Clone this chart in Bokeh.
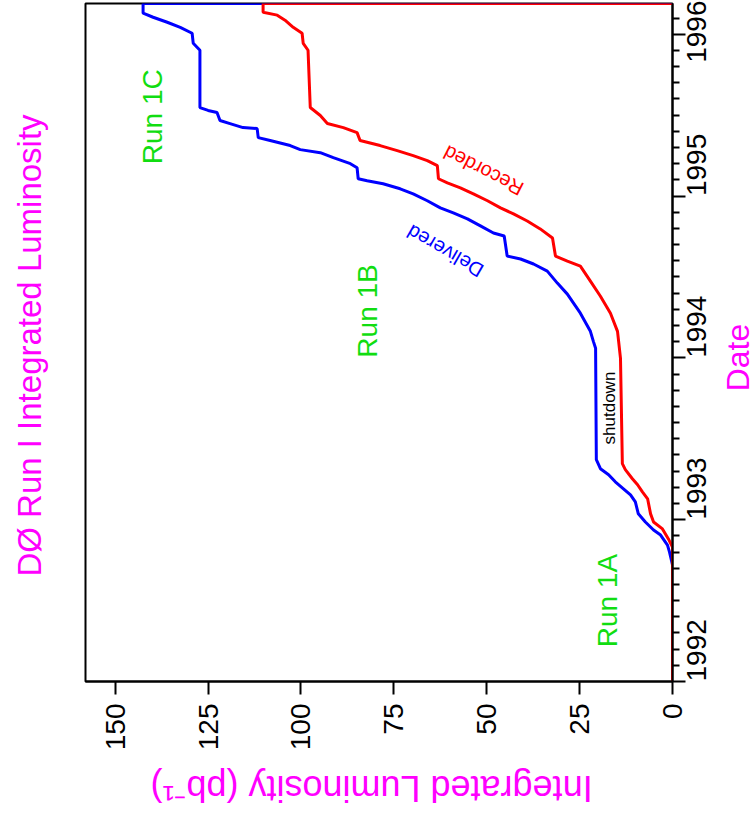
import math
from bokeh.plotting import figure
from bokeh.models import Range1d, FixedTicker, Label
from bokeh.layouts import row, column
from bokeh.core.properties import value
from bokeh.embed import file_html
from bokeh.resources import INLINE

# ---- data (date in years, integrated luminosity in pb^-1) ----
delivered_date = [1992.00, 1992.72, 1992.80, 1992.843, 1992.905, 1992.936, 1992.986, 1993.036,
                  1993.110, 1993.153, 1993.191, 1993.234, 1993.278, 1993.315, 1993.371,
                  1994.059, 1994.102, 1994.164, 1994.276, 1994.394, 1994.462, 1994.536,
                  1994.580, 1994.611, 1994.629, 1994.753, 1994.772, 1994.816, 1994.859,
                  1994.896, 1994.927, 1994.971, 1995.014, 1995.045, 1995.076, 1995.095,
                  1995.107, 1995.175, 1995.200, 1995.237, 1995.268, 1995.287, 1995.312,
                  1995.343, 1995.361, 1995.417, 1995.423, 1995.448, 1995.467, 1995.516,
                  1995.529, 1995.547, 1995.901, 1995.944, 1996.006, 1996.043, 1996.074,
                  1996.105, 1996.130, 1996.19, 1996.19]
delivered_lum = [0.0, 0.0, 0.8, 1.35, 3.2, 5.1, 7.3, 9.2,
                 10.0, 11.3, 13.2, 15.4, 17.2, 19.4, 20.5,
                 20.7, 21.3, 22.1, 24.8, 28.3, 31.0, 33.7,
                 37.4, 40.9, 44.5, 45.3, 48.2, 51.7, 55.2,
                 59.0, 62.5, 66.0, 69.8, 73.3, 77.9, 82.2,
                 84.6, 84.9, 86.7, 91.3, 94.8, 100.2, 102.9,
                 108.3, 111.5, 111.8, 115.6, 119.1, 121.8, 122.6,
                 125.0, 127.2, 127.2, 129.0, 129.3, 132.5, 136.0,
                 139.8, 142.5, 142.5, 0.0]

recorded_date = [1992.00, 1992.831, 1992.881, 1992.943, 1992.986, 1993.036, 1993.129, 1993.172,
                 1993.216, 1993.253, 1993.309, 1993.346, 1993.997, 1994.102, 1994.164,
                 1994.276, 1994.381, 1994.474, 1994.567, 1994.598, 1994.629, 1994.741,
                 1994.797, 1994.846, 1994.890, 1994.927, 1994.971, 1995.014, 1995.051,
                 1995.082, 1995.107, 1995.188, 1995.219, 1995.250, 1995.281, 1995.312,
                 1995.343, 1995.392, 1995.423, 1995.448, 1995.498, 1995.547, 1995.901,
                 1995.944, 1996.006, 1996.043, 1996.087, 1996.118, 1996.136, 1996.19, 1996.19]
recorded_lum = [0.0, 0.0, 1.1, 2.7, 5.1, 5.9, 6.7, 8.1,
                9.4, 10.8, 12.7, 13.5, 14.0, 14.5, 14.8,
                16.7, 19.4, 22.1, 24.8, 28.3, 31.5, 32.3,
                35.6, 39.1, 42.8, 46.3, 49.8, 53.6, 57.1,
                60.6, 63.0, 63.3, 66.0, 69.8, 74.1, 78.7,
                84.1, 84.9, 88.6, 92.9, 94.8, 97.5, 98.1,
                99.4, 99.7, 102.1, 104.3, 106.4, 110.2, 110.2, 0.0]

year_ticks = [1992, 1993, 1994, 1995, 1996]
year_labels = ["1992", "1993", "1994", "1995", "1996"]
lum_ticks = [0, 25, 50, 75, 100, 125, 150]
lum_labels = ["0", "25", "50", "75", "100", "125", "150"]

title_text = "DØ Run I Integrated Luminosity"
xlabel_text = "Integrated Luminosity (pb⁻¹)"
ylabel_text = "Date"

FONT = "Liberation Sans"
MAGENTA = "#ff00ff"
GREEN = "#11dd11"

# ---------------- main plot ----------------
p = figure(width=669, height=760, output_backend="svg", toolbar_location=None,
           x_range=Range1d(158, 0), y_range=Range1d(1992, 1996.19),
           y_axis_location="right",
           min_border_left=35, min_border_right=47, min_border_top=3, min_border_bottom=79)
p.background_fill_color = "white"
p.border_fill_color = "white"
p.outline_line_color = "black"
p.outline_line_width = 2
p.xgrid.visible = False
p.ygrid.visible = False

minor_years = [y + k / 10 for y in year_ticks[:-1] for k in range(1, 10)] + [1996.1]

xa = p.xaxis[0]
xa.ticker = FixedTicker(ticks=lum_ticks, minor_ticks=[])
xa.major_label_overrides = {t: s for t, s in zip(lum_ticks, lum_labels)}
ya = p.yaxis[0]
ya.ticker = FixedTicker(ticks=year_ticks, minor_ticks=minor_years)
ya.major_label_overrides = {t: s for t, s in zip(year_ticks, year_labels)}

for ax in (xa, ya):
    ax.major_label_orientation = math.pi / 2
    ax.major_label_text_font = FONT
    ax.major_label_text_font_size = "28px"
    ax.major_label_text_color = "black"
    ax.axis_line_color = "black"
    ax.axis_line_width = 2
    ax.major_tick_line_color = "black"
    ax.major_tick_line_width = 2
    ax.minor_tick_line_color = "black"
    ax.minor_tick_line_width = 2
    ax.major_tick_in = 0
    ax.major_tick_out = 13
    ax.minor_tick_in = 0
    ax.minor_tick_out = 7
xa.major_label_standoff = 9
ya.major_label_standoff = 11

p.line(delivered_lum, delivered_date, line_color="#0000ff", line_width=3)
p.line(recorded_lum, recorded_date, line_color="#ff0000", line_width=3)

def lab(x, y, text, size, color, angle):
    p.add_layout(Label(x=x, y=y, text=text, angle=angle, text_font=FONT,
                       text_font_size=size, text_color=color,
                       text_align="center", text_baseline="middle"))

lab(17.5, 1992.50, "Run 1A", "28px", GREEN, math.pi / 2)
lab(82.2, 1994.29, "Run 1B", "28px", GREEN, math.pi / 2)
lab(140.0, 1995.49, "Run 1C", "28px", GREEN, math.pi / 2)
lab(17.0, 1993.69, "shutdown", "17px", "black", math.pi / 2)
lab(50.9, 1995.157, "Recorded", "20px", "#ff0000", math.radians(153))
lab(61.2, 1994.66, "Delivered", "20px", "#0000ff", math.radians(150))

# ---------------- text panels (title, axis titles) ----------------
def text_panel(w, h, x, y, txt, size, angle):
    f = figure(width=w, height=h, output_backend="svg", toolbar_location=None,
               x_range=Range1d(0, w), y_range=Range1d(0, h),
               x_axis_type=None, y_axis_type=None, min_border=0)
    f.outline_line_color = None
    f.background_fill_color = "white"
    f.border_fill_color = "white"
    for g in f.grid:
        g.visible = False
    f.text(x=[x], y=[y], text=[txt], angle=angle, text_color=MAGENTA,
           text_font=value(FONT), text_font_size=value(size),
           text_align="center", text_baseline="middle")
    return f

title_panel = text_panel(50, 819, 29, 474, title_text, "33px", math.pi / 2)
xlabel_panel = text_panel(669, 59, 326, 31, xlabel_text, "36px", math.pi)
ylabel_panel = text_panel(37, 819, 18.5, 462, ylabel_text, "32px", math.pi / 2)

layout = row(title_panel, column(p, xlabel_panel, spacing=0), ylabel_panel, spacing=0)

open("out.html", "w").write(file_html(layout, INLINE))
